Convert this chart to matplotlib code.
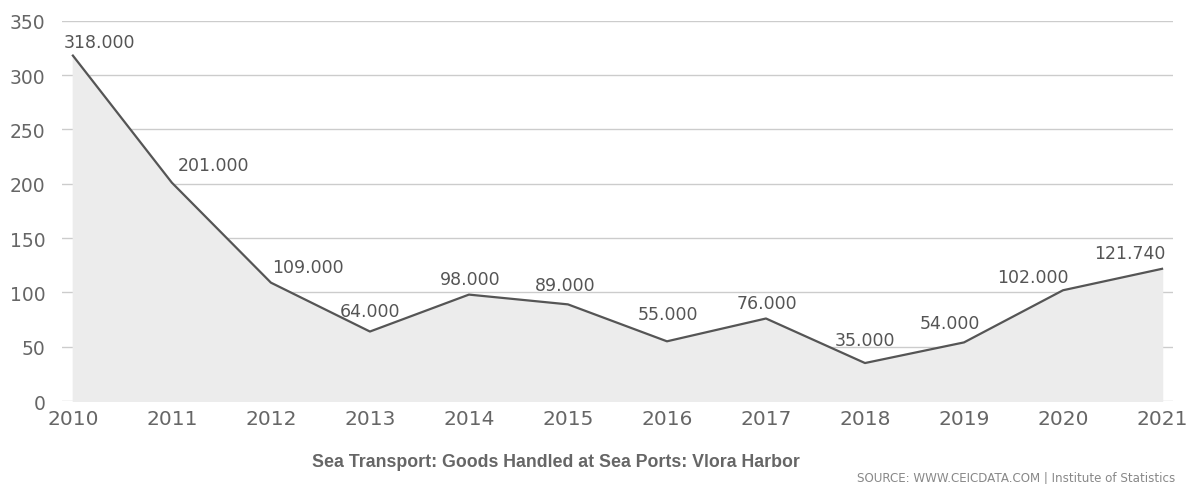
import matplotlib
matplotlib.use("Agg")
import matplotlib.pyplot as plt
import numpy as np

years = [2010, 2011, 2012, 2013, 2014, 2015, 2016, 2017, 2018, 2019, 2020, 2021]
values = [318.0, 201.0, 109.0, 64.0, 98.0, 89.0, 55.0, 76.0, 35.0, 54.0, 102.0, 121.74]
value_labels = ["318.000", "201.000", "109.000", "64.000", "98.000", "89.000",
                "55.000", "76.000", "35.000", "54.000", "102.000", "121.740"]
y_ticks = [0, 50, 100, 150, 200, 250, 300, 350]

# label offsets in points (style only)
label_dx = [19, 30, 27, 0, 1, -2, 1, 1, 0, -10, -22, -23]
label_dy = [10, 13, 11.5, 15, 11, 14, 19.5, 11, 16.5, 14, 9.5, 11.5]

title = "Sea Transport: Goods Handled at Sea Ports: Vlora Harbor"
source = "SOURCE: WWW.CEICDATA.COM | Institute of Statistics"

fig = plt.figure(figsize=(11.92, 4.85), dpi=100)
ax = fig.add_axes([0.052, 0.171, 0.932, 0.784])

x = np.array(years, dtype=float)
y = np.array(values)
ax.fill_between(x, 0, y, color="#ececec", zorder=1)
ax.plot(x, y, color="#555555", linewidth=1.6, zorder=3)

for xi, yi, lab, dx, dy in zip(x, y, value_labels, label_dx, label_dy):
    ax.annotate(lab, (xi, yi), xytext=(dx, dy), textcoords="offset points",
                ha="center", va="center", fontsize=12.5, color="#555555",
                family="DejaVu Sans")

ax.set_xlim(years[0] - 0.11, years[-1] + 0.11)
ax.set_ylim(0, 350)
ax.set_yticks(y_ticks)
ax.set_xticks(years)
ax.set_xticklabels([str(v) for v in years])
ax.grid(axis="y", color="#cccccc", linewidth=1.0, zorder=0)
ax.set_axisbelow(True)
for s in ax.spines.values():
    s.set_visible(False)
ax.tick_params(axis="both", length=0, labelcolor="#666666")
ax.tick_params(axis="x", labelsize=14.5, pad=6)
ax.tick_params(axis="y", labelsize=13.5, pad=12)

fig.text(0.466, 0.046, title, ha="center", va="center", fontsize=12.8,
         fontweight="bold", color="#666666", family="Liberation Sans")
fig.text(0.986, 0.014, source, ha="right", va="center", fontsize=8.6,
         color="#888888", family="Liberation Sans Narrow")

fig.savefig("out.png", dpi=100)
